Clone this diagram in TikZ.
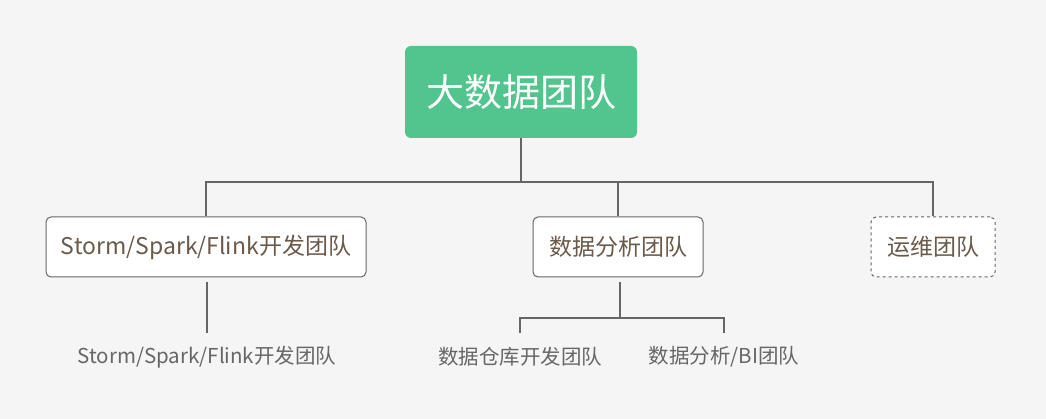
\documentclass[tikz,border=0pt]{standalone}
\usepackage{fontspec}
\newfontfamily\cjk{Noto Sans CJK SC}
\definecolor{bg}{HTML}{F5F5F5}
\definecolor{grn}{HTML}{52C48E}
\definecolor{brn}{HTML}{6B5A4A}
\definecolor{ln}{HTML}{666666}
\begin{document}
\begin{tikzpicture}[x=1pt,y=-1pt,
  box/.style={draw=ln,line width=1pt,fill=white,rounded corners=5pt,text=brn,font=\cjk\fontsize{23}{26}\selectfont,inner sep=0pt},
  lbl/.style={text=ln,font=\cjk\fontsize{20.5}{24}\selectfont,inner sep=0pt},
  main/.style={line width=2.5pt,draw=ln},
  sub/.style={line width=1.3pt,draw=ln}]
\fill[bg] (0,0) rectangle (1046,419);
\useasboundingbox (0,0) rectangle (1046,419);
\node[fill=grn,rounded corners=6pt,minimum width=232pt,minimum height=92pt,text=white,font=\cjk\fontsize{38}{42}\selectfont,inner sep=0pt] (top) at (521,92) {大数据团队};
\node[box,minimum width=320pt,minimum height=60pt] (a) at (206,247) {Storm/Spark/Flink开发团队};
\node[box,minimum width=170pt,minimum height=60pt] (b) at (618,247) {数据分析团队};
\node[box,dashed,minimum width=124pt,minimum height=60pt] (c) at (933,247) {运维团队};
\coordinate (h) at (521,182);
\draw[main] (top.south) -- (h);
\draw[main] (a.north) |- (h) -| (c.north);
\draw[main] (b.north) -- (b.north |- h);
\node[lbl] (a1) at (207,357) {Storm/Spark/Flink开发团队};
\node[lbl] (b1) at (520,357) {数据仓库开发团队};
\node[lbl] (b2) at (724,357) {数据分析/BI团队};
\coordinate (as) at (207,282);
\coordinate (ae) at (207,333);
\draw[sub] (as) -- (ae);
\coordinate (bj) at (620,318);
\draw[sub] (620,282) -- (bj);
\coordinate (b1t) at (520,333);
\coordinate (b2t) at (724,333);
\draw[sub] (b1t) |- (bj) -| (b2t);
\end{tikzpicture}
\end{document}
